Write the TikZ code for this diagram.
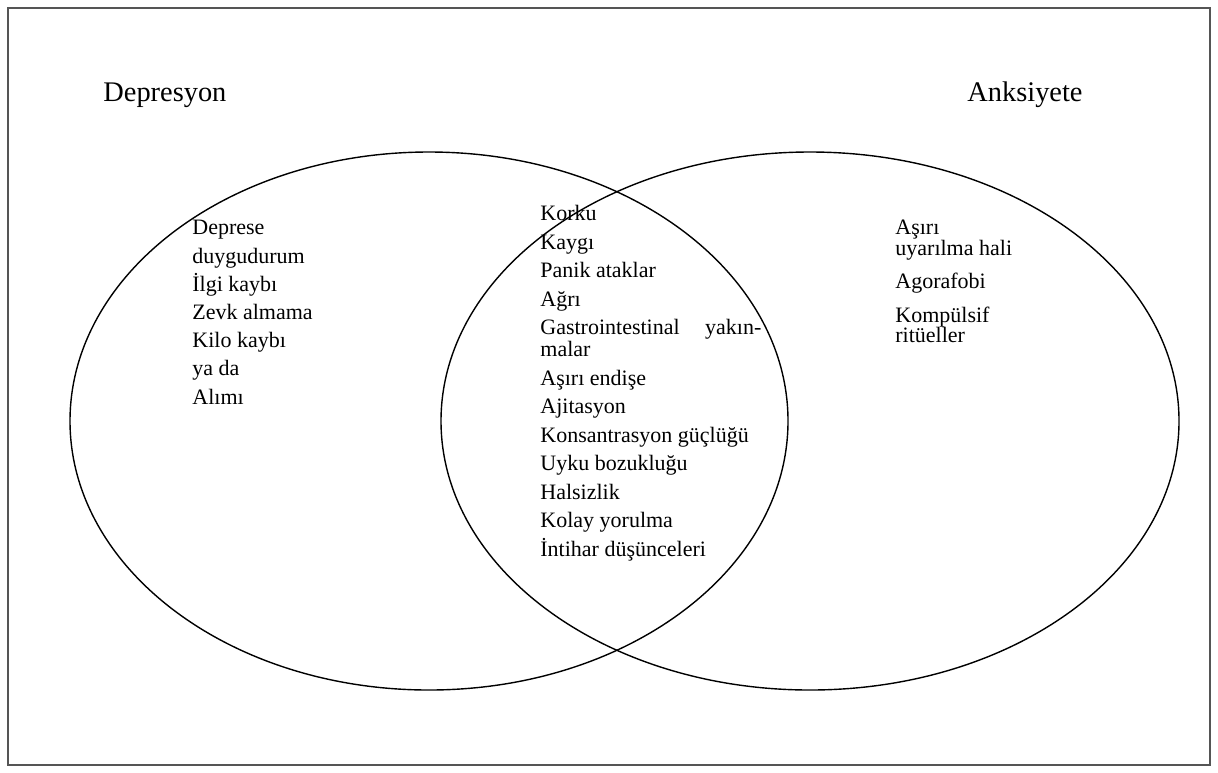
\documentclass[tikz,border=0pt]{standalone}
\usepackage{fontspec}
\setmainfont{Liberation Serif}
\usetikzlibrary{
  positioning
}
\definecolor{framecolor}{RGB}{85, 85, 85}
\definecolor{setcolor}{RGB}{0, 0, 0}
\definecolor{labelcolor}{RGB}{0, 0, 0}
\tikzset{
titlelabel/.style={
  font=\fontsize{14.2}{17}\selectfont,
  text=labelcolor,
  inner sep=0pt
},
itemlist/.style={
  font=\fontsize{11}{#1}\selectfont,
  text=labelcolor,
  align=left,
  inner sep=0pt,
  anchor=north west
},
setellipse/.style={
  draw=setcolor,
  line width=0.7pt
},
outerframe/.style={
  draw=framecolor,
  line width=1.2pt
}
}

\begin{document}
\begin{tikzpicture}[x=0.5pt,y=-0.5pt]
  \useasboundingbox (0,0) rectangle (1218,772);
  \draw[outerframe] (8,8) rectangle (1210,765);

  % the two sets
  \coordinate (depcenter) at (429,421);
  \coordinate (ankcenter) at (810,421);
  \draw[setellipse] (depcenter) ellipse [x radius=179.5pt, y radius=134.5pt];
  \draw[setellipse] (ankcenter) ellipse [x radius=184.5pt, y radius=134.5pt];

  % set names
  \node[titlelabel, anchor=base west] (depresyon) at (103,101) {Depresyon};
  \node[titlelabel, anchor=base west] (anksiyete) at (967,101) {Anksiyete};

  % only depression
  \node[itemlist=14.1pt] (deplist) at (192,220) {
    Deprese\\
    duygudurum\\
    İlgi kaybı\\
    Zevk almama\\
    Kilo kaybı\\
    ya da\\
    Alımı
  };

  % shared
  \node[itemlist=14.25pt] (ortaklist) at (540,205) {
    Korku\\
    Kaygı\\
    Panik ataklar\\
    Ağrı\\
    \makebox[110.5pt][s]{Gastrointestinal yakın-}\\[-3.25pt]
    malar\\
    Aşırı endişe\\
    Ajitasyon\\
    Konsantrasyon güçlüğü\\
    Uyku bozukluğu\\
    Halsizlik\\
    Kolay yorulma\\
    İntihar düşünceleri
  };

  % only anxiety
  \node[itemlist=16.75pt] (anklist) at (895,220) {
    Aşırı\\[-6.5pt]
    uyarılma hali\\
    Agorafobi\\
    Kompülsif\\[-6.5pt]
    ritüeller
  };
\end{tikzpicture}
\end{document}
